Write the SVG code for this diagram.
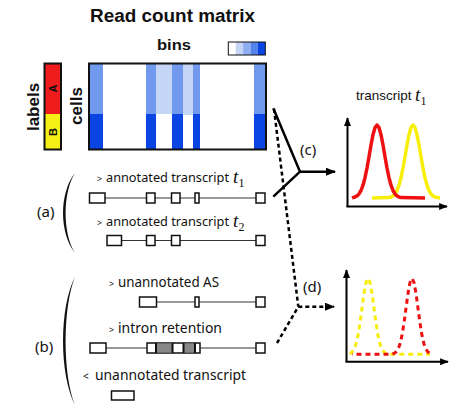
<svg xmlns="http://www.w3.org/2000/svg" width="474" height="408" viewBox="0 0 474 408">
<style>
.title{font-family:"Liberation Sans",Arial,sans-serif;font-weight:bold;fill:#111}
.lbl{font-family:"Noto Sans","DejaVu Sans",sans-serif;fill:#111}
.math{font-family:"Liberation Serif","Times New Roman",serif;font-style:italic;fill:#111}
.sub{font-family:"Liberation Serif","Times New Roman",serif;fill:#111}
.exon{fill:#fff;stroke:#111;stroke-width:1.5}
.intron{stroke:#333;stroke-width:1}
.med{fill:#7199ee}
.light{fill:#c5d5f6}
.strong{fill:#0a45e4}
.conn{fill:none;stroke:#000;stroke-width:2.5}
.dash{stroke-dasharray:4 3}
.axis{fill:none;stroke:#000;stroke-width:2}
.curve{fill:none;stroke-width:3.5;stroke-linejoin:round}
.dcurve{fill:none;stroke-width:3;stroke-dasharray:5 4}
</style>
<defs>
<marker id="ah" viewBox="0 0 10 8" refX="9" refY="4" markerWidth="11" markerHeight="8" markerUnits="userSpaceOnUse" orient="auto"><path d="M0,0 L10,4 L0,8 Z" fill="#000"/></marker>
<marker id="ax" viewBox="0 0 10 8" refX="9" refY="4" markerWidth="9" markerHeight="7" markerUnits="userSpaceOnUse" orient="auto"><path d="M0,0 L10,4 L0,8 Z" fill="#000"/></marker>
</defs>

<g id="title">
<text class="title" x="90" y="22" font-size="18" textLength="165" lengthAdjust="spacingAndGlyphs">Read count matrix</text>
<text class="title" x="157" y="50" font-size="15" textLength="34" lengthAdjust="spacingAndGlyphs">bins</text>
</g>

<g id="legend">
<rect x="228.3" y="42" width="7.4" height="13" fill="#fff"/>
<rect x="235.7" y="42" width="7.4" height="13" fill="#c5d5f6"/>
<rect x="243.1" y="42" width="7.4" height="13" fill="#8eaef2"/>
<rect x="250.5" y="42" width="7.4" height="13" fill="#5483ec"/>
<rect x="257.9" y="42" width="7.4" height="13" fill="#0a45e4"/>
<rect x="228.3" y="42" width="37" height="13" fill="none" stroke="#111" stroke-width="1"/>
</g>

<g id="labels">
<rect x="44.5" y="63.5" width="16.5" height="50.5" fill="#ee1c1c"/>
<rect x="44.5" y="114" width="16.5" height="35.5" fill="#f7f016"/>
<rect x="44.5" y="63.5" width="16.5" height="86" fill="none" stroke="#111" stroke-width="2"/>
<text class="title" font-size="11" text-anchor="middle" transform="translate(57,88.5) rotate(-90)">A</text>
<text class="title" font-size="11" text-anchor="middle" transform="translate(57,132) rotate(-90)">B</text>
<text class="title" font-size="17" text-anchor="middle" transform="translate(38.5,107) rotate(-90)">labels</text>
<text class="title" font-size="17" text-anchor="middle" transform="translate(82,106) rotate(-90)">cells</text>
</g>

<g id="matrix">
<rect x="89" y="63.5" width="177" height="86" fill="#fff"/>
<rect class="med" x="90" y="64" width="13" height="50"/>
<rect class="strong" x="90" y="114" width="13" height="35"/>
<rect class="med" x="146" y="64" width="10" height="50"/>
<rect class="strong" x="146" y="114" width="10" height="35"/>
<rect class="light" x="156" y="64" width="16" height="50"/>
<rect class="med" x="172" y="64" width="11" height="50"/>
<rect class="strong" x="172" y="114" width="11" height="35"/>
<rect class="light" x="183" y="64" width="10" height="51"/>
<rect class="med" x="193" y="64" width="7" height="50"/>
<rect class="strong" x="193" y="114" width="7" height="35"/>
<rect class="med" x="254" y="64" width="11" height="50"/>
<rect class="strong" x="254" y="114" width="11" height="35"/>
<rect x="89" y="63.5" width="177" height="86" fill="none" stroke="#111" stroke-width="2"/>
</g>

<g id="bracket-a">
<path d="M75,173 C59,193 59,233 75,253 C62.5,233 62.5,193 75,173 Z" fill="#111"/>
<text class="lbl" x="37" y="217" font-size="15">(a)</text>
</g>

<g id="transcript-t1">
<text class="lbl" x="97" y="182" font-size="9">&gt;</text>
<text class="lbl" x="106" y="182" font-size="13" textLength="123" lengthAdjust="spacingAndGlyphs">annotated transcript</text>
<text class="math" x="233" y="183" font-size="19">t</text>
<text class="sub" x="238.5" y="187" font-size="12">1</text>
<line class="intron" x1="105" y1="198" x2="256" y2="198"/>
<rect class="exon" x="89.5" y="193" width="15.5" height="10"/>
<rect class="exon" x="146.5" y="193" width="8.5" height="10"/>
<rect class="exon" x="171.5" y="193" width="8.5" height="10"/>
<rect class="exon" x="195" y="193" width="4" height="10"/>
<rect class="exon" x="256" y="193" width="9" height="10"/>
</g>

<g id="transcript-t2">
<text class="lbl" x="97" y="225.5" font-size="9">&gt;</text>
<text class="lbl" x="106" y="225.5" font-size="13" textLength="123" lengthAdjust="spacingAndGlyphs">annotated transcript</text>
<text class="math" x="233" y="226.5" font-size="19">t</text>
<text class="sub" x="238.5" y="230.5" font-size="12">2</text>
<line class="intron" x1="121" y1="240.5" x2="256" y2="240.5"/>
<rect class="exon" x="107" y="235.5" width="14.5" height="10"/>
<rect class="exon" x="146.5" y="235.5" width="8.5" height="10"/>
<rect class="exon" x="171.5" y="235.5" width="8.5" height="10"/>
<rect class="exon" x="256" y="235.5" width="9" height="10"/>
</g>

<g id="bracket-b">
<path d="M75,277 C59,307 59,375 75,405 C62.5,375 62.5,307 75,277 Z" fill="#111"/>
<text class="lbl" x="35" y="352" font-size="15">(b)</text>
</g>

<g id="unannotated-as">
<text class="lbl" x="109" y="287" font-size="9">&gt;</text>
<text class="lbl" x="118" y="287" font-size="13.5" textLength="101" lengthAdjust="spacingAndGlyphs">unannotated AS</text>
<line class="intron" x1="156" y1="302" x2="256" y2="302"/>
<rect class="exon" x="139.5" y="297" width="17" height="10"/>
<rect class="exon" x="195" y="297" width="4" height="10"/>
<rect class="exon" x="256" y="297" width="9" height="10"/>
</g>

<g id="intron-retention">
<text class="lbl" x="109" y="332.5" font-size="9">&gt;</text>
<text class="lbl" x="118" y="332.5" font-size="13.5" textLength="104" lengthAdjust="spacingAndGlyphs">intron retention</text>
<line class="intron" x1="106" y1="348" x2="256" y2="348"/>
<rect class="exon" x="90" y="343" width="16" height="10"/>
<rect class="exon" x="147" y="343" width="53" height="10"/>
<rect x="156" y="343.5" width="16.5" height="9" fill="#888"/>
<rect x="183.5" y="343.5" width="11.5" height="9" fill="#888"/>
<g stroke="#111" stroke-width="2">
<line x1="156" y1="343" x2="156" y2="353"/>
<line x1="172.5" y1="343" x2="172.5" y2="353"/>
<line x1="183.5" y1="343" x2="183.5" y2="353"/>
<line x1="195" y1="343" x2="195" y2="353"/>
</g>
<rect class="exon" x="256" y="343" width="9" height="10"/>
</g>

<g id="unannotated-transcript">
<text class="lbl" x="83" y="380" font-size="10">&lt;</text>
<text class="lbl" x="95" y="380" font-size="15" textLength="151" lengthAdjust="spacingAndGlyphs">unannotated transcript</text>
<rect class="exon" x="111.5" y="391" width="22.5" height="9"/>
</g>

<g id="connectors">
<path class="conn" d="M273.3,108.3 L300,171.7 M273.3,196.7 L300,171.7"/>
<path class="conn" d="M300,171.7 L335,171.7" marker-end="url(#ah)"/>
<path class="conn dash" d="M274,109 L298.3,306.7 M277,343 L298.3,306.7"/>
<path class="conn dash" d="M298.3,306.7 L334,306.7" marker-end="url(#ah)"/>
<text class="lbl" x="300" y="155" font-size="15">(c)</text>
<text class="lbl" x="303" y="292" font-size="15">(d)</text>
</g>

<g id="plot-c">
<text x="356" y="100" font-family="Liberation Sans, Arial, sans-serif" font-size="13.5" fill="#111">transcript</text>
<text class="math" x="415" y="101" font-size="19">t</text>
<text class="sub" x="420.5" y="105" font-size="12">1</text>
<path class="axis" d="M347.5,207 L347.5,118" marker-end="url(#ax)"/>
<path class="axis" d="M346.5,206.5 L447,206.5" marker-end="url(#ax)"/>
<polyline class="curve" stroke="#f7ee0c" points="372,198 389,197.6 391,197 393,195.9 395,193.9 397,190.5 399,185.2 401,177.7 403,168 405,156.7 407,145 409,134.7 411,127.6 413,125 415,127.6 417,134.7 419,145 421,156.7 423,168 425,177.7 427,185.2 429,190.5 431,193.9 433,195.9 435,197 437,197.6 440,198"/>
<polyline class="curve" stroke="#ee1111" points="352,198 353,197.6 355,197 357,195.9 359,193.9 361,190.5 363,185.2 365,177.7 367,168 369,156.7 371,145 373,134.7 375,127.6 377,125 379,127.6 381,134.7 383,145 385,156.7 387,168 389,177.7 391,185.2 393,190.5 395,193.9 397,195.9 399,197 401,197.6 425,198"/>
</g>

<g id="plot-d">
<path class="axis" d="M346.5,362 L346.5,270" marker-end="url(#ax)"/>
<path class="axis" d="M345.5,361.7 L448,361.7" marker-end="url(#ax)"/>
<polyline class="dcurve" stroke="#f7ee0c" points="350,354.3 352,352.1 354,349.3 356,344 358,335.4 360,323.1 362,308.2 364,293.4 366,282.4 368,278.3 370,282.4 372,293.4 374,308.2 376,323.1 378,335.4 380,344 382,349.3 384,352.1 386,353.5 388,354.2 430,354.3"/>
<polyline class="dcurve" stroke="#ee1111" stroke-dashoffset="4.5" points="352,354.3 392,354.2 394,353.5 396,352.1 398,349.3 400,344 402,335.4 404,323.1 406,308.2 408,293.4 410,282.4 412,278.3 414,282.4 416,293.4 418,308.2 420,323.1 422,335.4 424,344 426,349.3 428,352.1 430,353.5 432,354.3"/>
</g>
</svg>
